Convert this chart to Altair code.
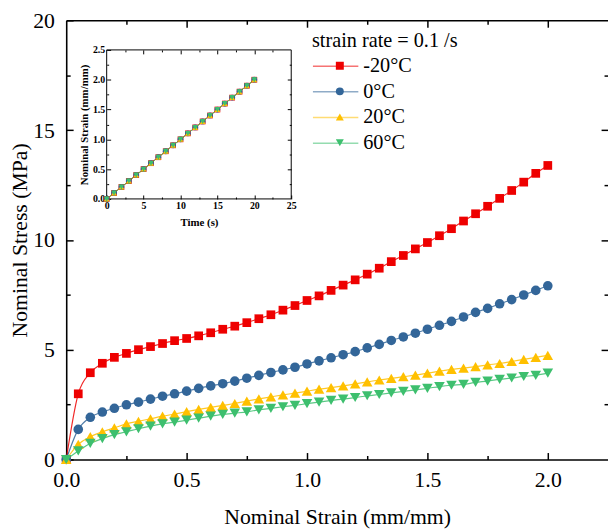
import altair as alt
import pandas as pd

FONT = "Liberation Serif"

temps = ["-20°C", "0°C", "20°C", "60°C"]
colors = ["#EE0000", "#336699", "#FFC000", "#3DBF6E"]
shapes = ["square", "circle", "triangle-up", "triangle-down"]
marker_sizes = [78, 95, 115, 115]

strain = [0.00, 0.05, 0.10, 0.15, 0.20, 0.25, 0.30, 0.35, 0.40, 0.45, 0.50,
          0.55, 0.60, 0.65, 0.70, 0.75, 0.80, 0.85, 0.90, 0.95, 1.00,
          1.05, 1.10, 1.15, 1.20, 1.25, 1.30, 1.35, 1.40, 1.45, 1.50,
          1.55, 1.60, 1.65, 1.70, 1.75, 1.80, 1.85, 1.90, 1.95, 2.00]

stress_m20 = [0.00, 2.99, 3.95, 4.38, 4.65, 4.83, 5.00, 5.14, 5.28, 5.41, 5.51,
              5.63, 5.77, 5.93, 6.07, 6.23, 6.41, 6.59, 6.80, 7.01, 7.24,
              7.45, 7.70, 7.94, 8.18, 8.44, 8.71, 9.01, 9.29, 9.59, 9.88,
              10.19, 10.51, 10.86, 11.19, 11.53, 11.89, 12.25, 12.63, 13.03, 13.39]
stress_0 = [0.00, 1.37, 1.92, 2.16, 2.33, 2.49, 2.61, 2.75, 2.88, 2.99, 3.11,
            3.24, 3.35, 3.45, 3.57, 3.70, 3.83, 3.96, 4.08, 4.20, 4.35,
            4.49, 4.63, 4.77, 4.91, 5.08, 5.24, 5.42, 5.58, 5.75, 5.93,
            6.11, 6.29, 6.49, 6.70, 6.88, 7.09, 7.28, 7.49, 7.70, 7.91]
stress_20 = [0.00, 0.69, 1.04, 1.26, 1.44, 1.62, 1.74, 1.85, 1.97, 2.07, 2.18,
             2.28, 2.37, 2.46, 2.55, 2.66, 2.76, 2.85, 2.94, 3.02, 3.11,
             3.20, 3.27, 3.35, 3.44, 3.53, 3.62, 3.69, 3.77, 3.84, 3.93,
             4.02, 4.10, 4.16, 4.23, 4.31, 4.37, 4.46, 4.56, 4.65, 4.74]
stress_60 = [0.00, 0.39, 0.73, 0.95, 1.13, 1.26, 1.40, 1.52, 1.62, 1.70, 1.79,
             1.88, 1.97, 2.05, 2.11, 2.17, 2.26, 2.33, 2.40, 2.46, 2.54,
             2.61, 2.69, 2.75, 2.82, 2.90, 2.96, 3.03, 3.10, 3.17, 3.24,
             3.32, 3.38, 3.42, 3.51, 3.57, 3.65, 3.71, 3.78, 3.83, 3.93]

inset_time = [0, 1, 2, 3, 4, 5, 6, 7, 8, 9, 10, 11, 12, 13, 14, 15, 16, 17, 18, 19, 20]
inset_strain = [0.0, 0.1, 0.2, 0.3, 0.4, 0.5, 0.6, 0.7, 0.8, 0.9, 1.0,
                1.1, 1.2, 1.3, 1.4, 1.5, 1.6, 1.7, 1.8, 1.9, 2.0]

rows = []
for t, vals in zip(temps, [stress_m20, stress_0, stress_20, stress_60]):
    for s, v in zip(strain, vals):
        rows.append({"T": t, "strain": s, "stress": v})
main_df = pd.DataFrame(rows)

irows = []
for t in temps:
    for tm, st in zip(inset_time, inset_strain):
        irows.append({"T": t, "time": tm, "istrain": st})
inset_df = pd.DataFrame(irows)

dummy = pd.DataFrame({"x": [0], "y": [0]})
frame_df = pd.DataFrame({"x0": [0], "x1": [25], "y0": [0], "y1": [2.5]})

W, H = 549, 445
IX0, IX1 = 41, 228
IY0, IY1 = 181, 30

XM = alt.Scale(domain=[0, 2.25], nice=False, zero=False)
YM = alt.Scale(domain=[0, 20], nice=False, zero=False)
XI = alt.Scale(domain=[0, 25], range=[IX0, IX1], nice=False, zero=False)
YI = alt.Scale(domain=[0, 2.5], range=[IY0, IY1], nice=False, zero=False)


def tick_axis(orient, values, size, offset, width=1.5):
    return alt.Axis(orient=orient, values=values, tickSize=size, offset=offset,
                    labels=False, domain=False, grid=False, ticks=True,
                    tickColor="black", tickWidth=width)


def frame_axis(orient, width=1.6):
    return alt.Axis(orient=orient, labels=False, ticks=False, grid=False,
                    domain=True, domainColor="black", domainWidth=width,
                    tickCount=0)


def axis_layer(xs, ys, xaxis, yaxis):
    return alt.Chart(dummy).mark_point(opacity=0).encode(
        x=alt.X("x:Q", scale=xs, axis=xaxis, title=None),
        y=alt.Y("y:Q", scale=ys, axis=yaxis, title=None),
    )


LX, LY = 249, 11
LFS = 20.5

line_legend = alt.Legend(
    orient="none", legendX=LX, legendY=LY, direction="vertical",
    title="strain rate = 0.1 /s", titleFont=FONT, titleFontSize=LFS,
    titleFontWeight="normal", titleColor="black", labelFont=FONT,
    labelFontSize=LFS, labelColor="black", symbolType="stroke",
    symbolSize=2116, symbolStrokeWidth=1.5, symbolOpacity=0.55,
    clipHeight=20, rowPadding=5, titlePadding=5, padding=0, zindex=0)

pt_legend = alt.Legend(
    orient="none", legendX=LX, legendY=LY + 25, direction="vertical",
    title="", labelFont=FONT, labelFontSize=LFS, labelExpr="''",
    symbolSize=65, symbolOffset=18,
    clipHeight=20, rowPadding=5, padding=0, zindex=1)

color_scale = alt.Scale(domain=temps, range=colors)
shape_scale = alt.Scale(domain=temps, range=shapes)
stroke_scale = alt.Scale(range=colors)

# ---- main frame & ticks ----
m_frame1 = axis_layer(XM, YM, frame_axis("bottom"), frame_axis("left"))
m_frame2 = axis_layer(XM, YM, frame_axis("top"), None)
m_minor_bl = axis_layer(XM, YM,
                        tick_axis("bottom", [0.25, 0.75, 1.25, 1.75], 4, -4),
                        tick_axis("left", [2.5, 7.5, 12.5, 17.5], 4, -4))
m_major_tr = axis_layer(XM, YM,
                        tick_axis("top", [0.5, 1.0, 1.5, 2.0], 7, -7),
                        tick_axis("right", [5, 10, 15], 7, -7))
m_minor_tr = axis_layer(XM, YM,
                        tick_axis("top", [0.25, 0.75, 1.25, 1.75], 4, -4),
                        tick_axis("right", [2.5, 7.5, 12.5, 17.5], 4, -4))

m_lines = alt.Chart(main_df).mark_line(
    strokeWidth=1.2, strokeOpacity=0.85, interpolate="monotone").encode(
    x=alt.X("strain:Q", scale=XM, title="Nominal Strain (mm/mm)",
            axis=alt.Axis(orient="bottom", values=[0, 0.5, 1.0, 1.5, 2.0],
                          format=".1f", tickSize=7, offset=-7, tickWidth=1.5,
                          tickColor="black", domain=False, grid=False,
                          labelFont=FONT, labelFontSize=22, labelColor="black",
                          labelPadding=10, labelFlush=False, titleFont=FONT,
                          titleFontSize=22, titleFontWeight="normal",
                          titleColor="black", titlePadding=17)),
    y=alt.Y("stress:Q", scale=YM, title="Nominal Stress (MPa)",
            axis=alt.Axis(orient="left", values=[0, 5, 10, 15, 20],
                          format="d", tickSize=7, offset=-7, tickWidth=1.5,
                          tickColor="black", domain=False, grid=False,
                          labelFont=FONT, labelFontSize=22, labelColor="black",
                          labelPadding=12, titleFont=FONT, titleFontSize=22,
                          titleFontWeight="normal", titleColor="black",
                          titlePadding=1)),
    stroke=alt.Stroke("T:N", scale=stroke_scale, legend=line_legend),
)


def pts_layer(df, xf, yf, xs, ys, subset, size):
    return alt.Chart(df).transform_filter(
        alt.FieldOneOfPredicate(field="T", oneOf=subset)
    ).mark_point(filled=True, opacity=1, size=size).encode(
        x=alt.X(xf, scale=xs, axis=None),
        y=alt.Y(yf, scale=ys, axis=None),
        color=alt.Color("T:N", scale=color_scale, legend=pt_legend),
        shape=alt.Shape("T:N", scale=shape_scale, legend=pt_legend),
    )


m_pts = [pts_layer(main_df, "strain:Q", "stress:Q", XM, YM, [t], s)
         for t, s in zip(temps, marker_sizes)]

# ---- inset ----
i_frame = alt.Chart(frame_df).mark_rect(
    fillOpacity=0, stroke="black", strokeWidth=1).encode(
    x=alt.X("x0:Q", scale=XI, axis=None),
    x2="x1:Q",
    y=alt.Y("y0:Q", scale=YI, axis=None),
    y2="y1:Q",
)

i_lines = alt.Chart(inset_df).mark_line(strokeWidth=1, strokeOpacity=0.9).encode(
    x=alt.X("time:Q", scale=XI, title="Time (s)",
            axis=alt.Axis(orient="bottom", values=[0, 5, 10, 15, 20, 25],
                          format="d", tickSize=4, offset=-(H - IY0) - 4,
                          tickWidth=1, tickColor="black", domain=False,
                          grid=False, labelFont=FONT, labelFontSize=10,
                          labelFontWeight="bold", labelColor="black",
                          labelPadding=2, labelFlush=False, titleFont=FONT,
                          titleFontSize=11, titleFontWeight="bold",
                          titleColor="black", titlePadding=6)),
    y=alt.Y("istrain:Q", scale=YI, title="Nominal Strain (mm/mm)",
            axis=alt.Axis(orient="left", values=[0, 0.5, 1.0, 1.5, 2.0, 2.5],
                          format=".1f", tickSize=4, offset=-IX0 - 4,
                          tickWidth=1, tickColor="black", domain=False,
                          grid=False, labelFont=FONT, labelFontSize=10,
                          labelFontWeight="bold", labelColor="black",
                          labelPadding=2, titleFont=FONT, titleFontSize=11,
                          titleFontWeight="bold", titleColor="black",
                          titlePadding=3)),
    stroke=alt.Stroke("T:N", scale=stroke_scale, legend=line_legend),
)

i_pts = alt.Chart(inset_df).mark_point(filled=True, opacity=1, size=34).encode(
    x=alt.X("time:Q", scale=XI, axis=None),
    y=alt.Y("istrain:Q", scale=YI, axis=None),
    color=alt.Color("T:N", scale=color_scale, legend=pt_legend),
    shape=alt.Shape("T:N", scale=shape_scale, legend=pt_legend),
)

i_minor_bl = axis_layer(XI, YI,
                        tick_axis("bottom", [2.5, 7.5, 12.5, 17.5, 22.5], 2,
                                  -(H - IY0) - 2, 1),
                        tick_axis("left", [0.25, 0.75, 1.25, 1.75, 2.25], 2,
                                  -IX0 - 2, 1))
i_major_tr = axis_layer(XI, YI,
                        tick_axis("top", [5, 10, 15, 20], 4, -IY1 - 4, 1),
                        tick_axis("right", [0.5, 1.0, 1.5, 2.0], 4,
                                  (IX1 - 4) - W, 1))
i_minor_tr = axis_layer(XI, YI,
                        tick_axis("top", [2.5, 7.5, 12.5, 17.5, 22.5], 2,
                                  -IY1 - 2, 1),
                        tick_axis("right", [0.25, 0.75, 1.25, 1.75, 2.25], 2,
                                  (IX1 - 2) - W, 1))

chart = alt.layer(
    m_lines, m_frame1, m_frame2, m_minor_bl, m_major_tr, m_minor_tr,
    *m_pts,
    i_frame, i_lines, i_pts, i_minor_bl, i_major_tr, i_minor_tr,
).resolve_scale(
    x="independent", y="independent"
).properties(
    width=W, height=H,
    autosize=alt.AutoSizeParams(type="none"),
    padding={"left": 59, "top": 9, "right": 0, "bottom": 68},
).configure_view(strokeWidth=0)

chart.save("out.html", embed_options={"renderer": "svg", "actions": False})
